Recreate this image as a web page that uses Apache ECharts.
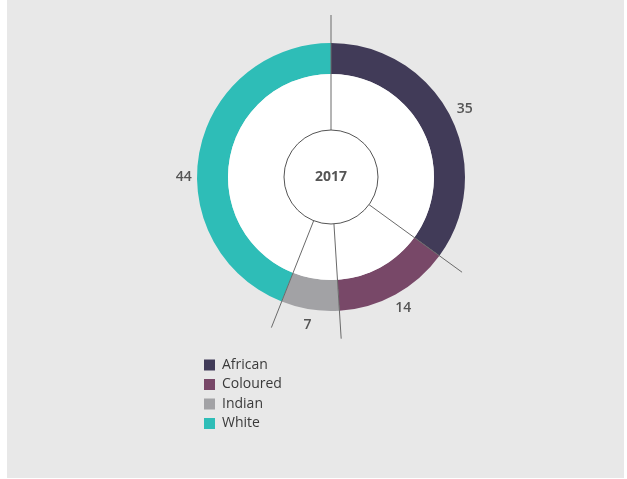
<!DOCTYPE html>
<html>
<head>
<meta charset="utf-8">
<script src="https://cdn.jsdelivr.net/npm/echarts@6/dist/echarts.min.js"></script>
<style>
  html, body { margin: 0; padding: 0; background: #ffffff; }
  #panel { position: absolute; left: 7px; top: 0; width: 617px; height: 478px; background: #e8e8e8; }
  #chart { position: absolute; left: 0; top: 0; width: 627px; height: 479px; }
</style>
</head>
<body>
<div id="panel"></div>
<div id="chart"></div>
<script>
// Population groups, 2017 (percent)
const categories = ['African', 'Coloured', 'Indian', 'White'];
const shares = [35, 14, 7, 44];
const colors = ['#413b58', '#784868', '#a2a2a5', '#2ebdb7'];
const yearLabel = '2017';

const center = [331, 177];
const font = "'Open Sans', 'Noto Sans', sans-serif";

// cumulative start of every slice, used for the divider lines
const starts = [];
let acc = 0;
shares.forEach(v => { starts.push(acc); acc += v; });
const total = acc;

const chart = echarts.init(document.getElementById('chart'), null, { renderer: 'canvas' });

chart.setOption({
  animation: false,
  legend: {
    data: categories,
    orient: 'vertical',
    left: 199,
    top: 353,
    itemWidth: 11,
    itemHeight: 11,
    itemGap: 5.5,
    icon: 'rect',
    selectedMode: false,
    textStyle: { fontFamily: font, fontSize: 14, fontWeight: 500, color: '#3a3a3a', padding: [0, 0, 0, 2] }
  },
  polar: { center: center, radius: 162 },
  radiusAxis: { type: 'value', min: 0, max: 162, show: false },
  angleAxis: { type: 'value', min: 0, max: total, startAngle: 90, clockwise: true, show: false },
  series: [
    {
      // coloured ring
      type: 'pie',
      center: center,
      radius: [103, 134],
      startAngle: 90,
      clockwise: true,
      silent: true,
      label: { show: false },
      labelLine: { show: false },
      data: categories.map((name, i) => ({ name, value: shares[i], itemStyle: { color: colors[i] } }))
    },
    {
      // white hole of the donut
      type: 'pie',
      center: center,
      radius: [0, 103],
      silent: true,
      label: { show: false },
      labelLine: { show: false },
      itemStyle: { color: '#ffffff' },
      data: [{ value: 1 }]
    },
    {
      // value labels around the ring
      type: 'pie',
      center: center,
      radius: [138, 156],
      startAngle: 90,
      clockwise: true,
      silent: true,
      itemStyle: { color: 'transparent' },
      labelLine: { show: false },
      label: {
        show: true,
        position: 'inside',
        rotate: 0,
        formatter: '{c}',
        fontFamily: font,
        fontSize: 14,
        fontWeight: 600,
        color: '#555'
      },
      data: shares.map((v, i) => ({
        value: v,
        label: categories[i] === 'White' ? { offset: [0, 28] } : {}
      }))
    },
    {
      // divider lines at slice boundaries
      type: 'custom',
      coordinateSystem: 'polar',
      silent: true,
      z: 5,
      data: starts.map(s => [162, s]),
      renderItem: function (params, api) {
        const a = api.value(1);
        const p0 = api.coord([47, a]);
        const p1 = api.coord([162, a]);
        return {
          type: 'line',
          shape: { x1: p0[0], y1: p0[1], x2: p1[0], y2: p1[1] },
          style: { stroke: '#6a6a6a', lineWidth: 1 }
        };
      }
    },
    {
      // central year disc
      type: 'pie',
      center: center,
      radius: [0, 47],
      silent: true,
      z: 6,
      labelLine: { show: false },
      itemStyle: { color: '#ffffff', borderColor: '#555', borderWidth: 1 },
      label: {
        show: true,
        position: 'center',
        formatter: yearLabel,
        fontFamily: font,
        fontSize: 14,
        fontWeight: 'bold',
        color: '#555'
      },
      data: [{ value: 1, name: yearLabel }]
    }
  ]
});
</script>
</body>
</html>
